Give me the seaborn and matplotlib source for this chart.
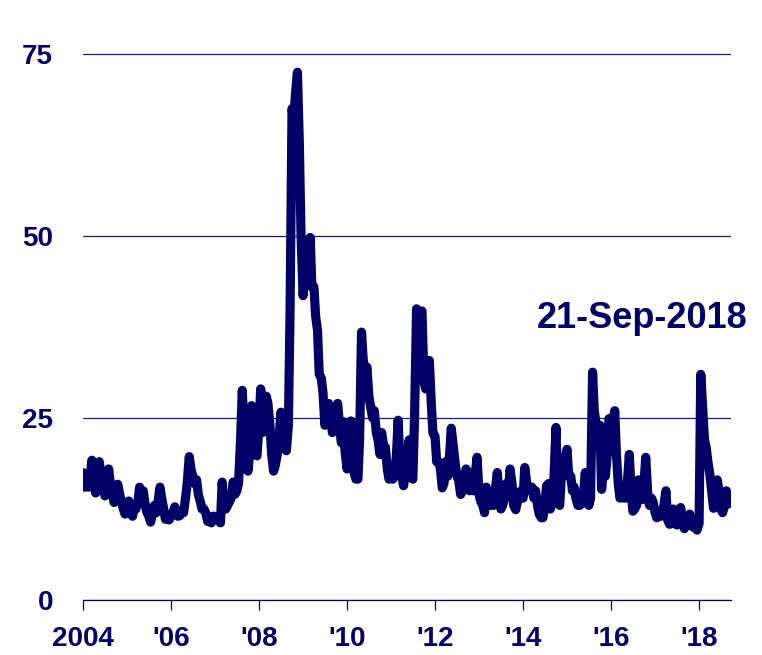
import pandas as pd
import matplotlib
matplotlib.use("Agg")
import matplotlib.pyplot as plt
import seaborn as sns

# --- Data: VIX, two readings per month (1st and 15th) ---
vix_2004 = [17.5, 15.5, 16.5, 15.5, 17.0, 19.2, 16.0, 14.7, 16.0, 19.0, 17.0, 15.5,
            14.3, 15.5, 18.0, 16.0, 14.5, 13.4, 14.0, 15.9, 14.5, 13.5, 12.5, 11.8]
vix_2005 = [12.5, 13.6, 12.5, 11.5, 13.0, 12.5, 13.5, 15.5, 14.0, 15.0, 13.0, 12.0,
            11.5, 10.7, 12.0, 13.0, 12.0, 13.5, 15.5, 14.0, 12.5, 11.1, 11.5, 11.0]
vix_2006 = [11.5, 12.0, 12.8, 12.0, 11.5, 11.6, 12.0, 12.0, 14.0, 16.0, 19.7, 18.0,
            17.0, 16.0, 16.5, 14.5, 13.5, 12.5, 12.5, 12.0, 10.8, 11.0, 10.6, 11.5]
vix_2007 = [11.5, 11.0, 11.0, 10.6, 16.2, 13.0, 12.5, 13.0, 13.5, 14.0, 16.2, 14.5,
            15.0, 16.0, 22.0, 28.8, 23.0, 20.0, 17.7, 20.0, 26.7, 23.0, 20.5, 19.8]
vix_2008 = [24.0, 29.0, 23.0, 24.0, 28.0, 27.0, 24.0, 20.0, 17.7, 18.5, 20.0, 22.0,
            25.8, 23.5, 22.0, 20.5, 24.0, 40.0, 67.5, 66.0, 70.0, 72.5, 62.6, 50.0]
vix_2009 = [41.8, 45.0, 44.0, 47.0, 49.8, 43.0, 43.0, 39.0, 37.0, 31.0, 30.5, 28.5,
            24.0, 26.0, 27.0, 26.0, 23.0, 24.0, 26.0, 27.0, 23.5, 21.6, 24.5, 20.5]
vix_2010 = [18.0, 22.0, 24.6, 20.0, 17.5, 16.6, 16.6, 22.0, 36.8, 33.0, 31.0, 32.0,
            28.0, 26.6, 25.0, 26.0, 23.0, 22.0, 20.0, 23.0, 21.0, 21.0, 18.0, 16.6]
vix_2011 = [17.5, 16.6, 17.0, 20.0, 24.7, 19.0, 17.0, 15.7, 17.5, 20.0, 22.0, 17.0,
            16.6, 25.0, 40.0, 36.0, 39.5, 39.7, 30.0, 29.0, 31.0, 32.9, 27.0, 22.9]
vix_2012 = [22.5, 19.0, 19.0, 18.0, 15.4, 16.0, 19.0, 17.0, 20.0, 23.6, 21.0, 19.0,
            17.0, 16.5, 14.5, 15.0, 17.0, 18.0, 17.5, 15.0, 16.0, 15.0, 17.5, 19.6]
vix_2013 = [14.5, 13.5, 13.0, 12.0, 15.5, 14.0, 13.0, 13.5, 13.0, 15.0, 17.5, 14.0,
            12.5, 13.0, 14.0, 16.0, 14.5, 18.0, 16.0, 13.0, 12.4, 13.5, 14.0, 15.0]
vix_2014 = [14.0, 18.2, 16.0, 15.5, 15.0, 15.5, 14.0, 15.0, 13.0, 11.8, 11.3, 11.3,
            13.0, 15.7, 16.0, 12.5, 13.5, 17.0, 23.7, 15.0, 13.0, 17.0, 18.7, 19.5]
vix_2015 = [20.7, 17.0, 17.0, 15.0, 15.5, 14.0, 13.0, 13.0, 13.2, 14.0, 17.5, 15.0,
            13.0, 14.0, 31.3, 26.0, 24.0, 21.0, 24.0, 15.2, 18.5, 17.0, 20.0, 24.9]
vix_2016 = [25.0, 24.0, 26.0, 20.0, 16.0, 14.0, 15.0, 14.0, 14.0, 16.0, 20.0, 15.0,
            12.2, 12.5, 13.0, 16.5, 15.0, 13.8, 16.0, 19.6, 14.5, 13.0, 14.0, 13.5]
vix_2017 = [12.0, 11.3, 11.5, 11.5, 12.0, 13.0, 15.0, 11.0, 10.4, 11.0, 12.5, 10.5,
            10.3, 11.0, 12.7, 11.0, 9.8, 10.3, 10.5, 11.8, 10.2, 10.0, 11.0, 9.6]
vix_2018 = [10.5, 31.0, 26.0, 22.0, 21.0, 19.0, 17.2, 15.0, 12.6, 14.0, 16.5, 15.0,
            12.5, 12.0, 13.0, 15.0, 13.2, 13.8]

tick_years = [2004, 2006, 2008, 2010, 2012, 2014, 2016, 2018]
tick_labels = ["2004", "'06", "'08", "'10", "'12", "'14", "'16", "'18"]
y_ticks = [0, 25, 50, 75]
date_label = "21-Sep-2018"

NAVY = "#000066"

values = (vix_2004 + vix_2005 + vix_2006 + vix_2007 + vix_2008 + vix_2009 + vix_2010
          + vix_2011 + vix_2012 + vix_2013 + vix_2014 + vix_2015 + vix_2016 + vix_2017
          + vix_2018)
dates = pd.date_range("2004-01-01", periods=len(values), freq="SMS")
df = pd.DataFrame({"date": dates, "vix": values})

# --- Plot ---
sns.set_theme(style="white")
plt.rcParams["font.family"] = ["Liberation Sans", "DejaVu Sans"]

fig = plt.figure(figsize=(7.62, 6.55), dpi=100)
ax = fig.add_axes([83 / 762, 55 / 655, 648 / 762, 549.6 / 655])

ax.yaxis.grid(True, color="#1a1a80", linewidth=0.9)
ax.xaxis.grid(False)
ax.set_axisbelow(True)

sns.lineplot(data=df, x="date", y="vix", color=NAVY, linewidth=6.6,
             solid_joinstyle="round", solid_capstyle="round", ax=ax)

ax.set_ylim(0, 75.5)
ax.set_xlim(pd.Timestamp("2004-01-01"), pd.Timestamp("2018-09-23"))
ax.set_yticks(y_ticks)
ax.set_yticklabels([str(v) for v in y_ticks])
ax.set_xticks([pd.Timestamp(f"{y}-01-01") for y in tick_years])
ax.set_xticklabels(tick_labels)
ax.set_xlabel("")
ax.set_ylabel("")

for side in ["left", "right", "top"]:
    ax.spines[side].set_visible(False)
ax.spines["bottom"].set_color(NAVY)
ax.spines["bottom"].set_linewidth(0.9)

ax.tick_params(axis="y", length=0, pad=21.6, labelsize=20, labelcolor=NAVY)
ax.tick_params(axis="x", direction="out", length=7.2, width=0.9, color=NAVY,
               pad=11.5, labelsize=20, labelcolor=NAVY, bottom=True)
for lbl in ax.get_xticklabels() + ax.get_yticklabels():
    lbl.set_fontweight("bold")

fig.text(748 / 762, (655 - 328) / 655, date_label, ha="right", va="baseline",
         fontsize=26, fontweight="bold", color=NAVY)

fig.savefig("out.png", dpi=100)
